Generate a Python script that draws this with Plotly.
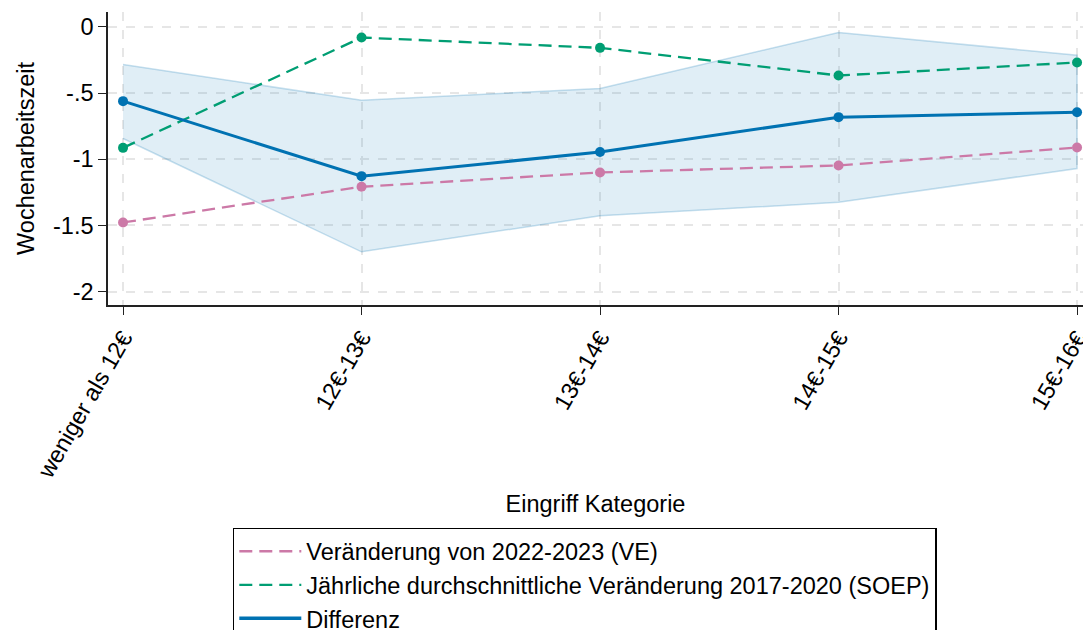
import plotly.graph_objects as go

# Lohnkategorien (Eingriff) und Effekte auf die Wochenarbeitszeit
kategorien = ["weniger als 12€", "12€-13€", "13€-14€", "14€-15€", "15€-16€"]
ve_2022_2023 = [-1.478, -1.208, -1.100, -1.047, -0.911]
soep_2017_2020 = [-0.914, -0.080, -0.158, -0.367, -0.269]
differenz = [-0.561, -1.128, -0.946, -0.682, -0.645]
differenz_ci_oben = [-0.284, -0.554, -0.465, -0.042, -0.214]
differenz_ci_unten = [-0.843, -1.700, -1.427, -1.326, -1.070]

y_ticks = [0, -0.5, -1, -1.5, -2]
y_tick_text = ["0", "-.5", "-1", "-1.5", "-2"]

BLAU = "#0072B2"
GRUEN = "#009E73"
PINK = "#CC79A7"
FONT = "Liberation Sans, Arial, sans-serif"
FS = 23.5
DASH = "13px,7px"

x = list(range(len(kategorien)))

fig = go.Figure()

# Konfidenzband der Differenz
fig.add_trace(go.Scatter(
    x=x + x[::-1],
    y=differenz_ci_oben + differenz_ci_unten[::-1],
    fill="toself",
    fillcolor="rgba(0,114,178,0.12)",
    line=dict(color="rgba(0,114,178,0.22)", width=1.5),
    mode="lines",
    hoverinfo="skip",
    showlegend=False,
))

fig.add_trace(go.Scatter(
    x=x, y=ve_2022_2023, mode="lines+markers",
    line=dict(color=PINK, width=2.3, dash=DASH),
    marker=dict(color=PINK, size=10),
    showlegend=False,
))
fig.add_trace(go.Scatter(
    x=x, y=soep_2017_2020, mode="lines+markers",
    line=dict(color=GRUEN, width=2.3, dash=DASH),
    marker=dict(color=GRUEN, size=10),
    showlegend=False,
))
fig.add_trace(go.Scatter(
    x=x, y=differenz, mode="lines+markers",
    line=dict(color=BLAU, width=3),
    marker=dict(color=BLAU, size=10),
    showlegend=False,
))

# Legendeneinträge (nur Linien)
for name, color, dash in [
    ("Veränderung von 2022-2023 (VE)", PINK, DASH),
    ("Jährliche durchschnittliche Veränderung 2017-2020 (SOEP)", GRUEN, DASH),
    ("Differenz", BLAU, "solid"),
]:
    fig.add_trace(go.Scatter(
        x=[None], y=[None], mode="lines", name=name,
        line=dict(color=color, width=2.3 if dash != "solid" else 3.5, dash=dash),
    ))

fig.update_layout(
    width=1083, height=630,
    margin=dict(l=108, r=0, t=12, b=325, autoexpand=False),
    paper_bgcolor="white", plot_bgcolor="white",
    font=dict(family=FONT, size=FS, color="#000000"),
    legend=dict(
        x=0.128, xanchor="left", y=-0.761, yanchor="top",
        bordercolor="#000000", borderwidth=1.5,
        font=dict(size=FS), tracegroupgap=0,
        itemwidth=62,
    ),
)

fig.update_xaxes(
    range=[-0.063, 4.025],
    tickmode="array", tickvals=x, ticktext=kategorien,
    tickangle=-60, ticks="outside", ticklen=8, tickcolor="#222222",
    ticklabeloverflow="allow", automargin=False,
    showline=True, linecolor="#222222", linewidth=1.5,
    showgrid=True, gridcolor="#e6e6e6", griddash="dash", gridwidth=1.5,
    zeroline=False,
    title=dict(text="Eingriff Kategorie", font=dict(size=FS), standoff=14),
)
fig.update_yaxes(
    range=[-2.102, 0.113],
    tickmode="array", tickvals=y_ticks, ticktext=y_tick_text,
    ticks="outside", ticklen=8, tickcolor="#222222",
    automargin=False,
    showline=True, linecolor="#222222", linewidth=1.5,
    showgrid=True, gridcolor="#e6e6e6", griddash="dash", gridwidth=1.5,
    zeroline=False,
    title=dict(text="Wochenarbeitszeit", font=dict(size=FS), standoff=12),
)

fig.write_html("out.html")
